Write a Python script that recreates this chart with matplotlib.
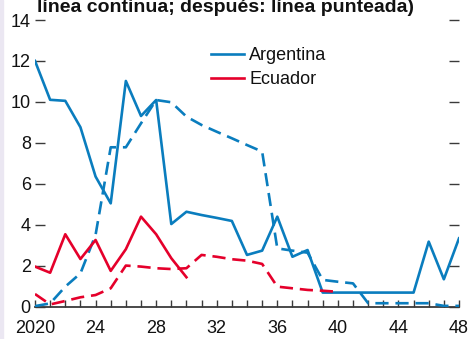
import numpy as np
import matplotlib
matplotlib.use('Agg')
import matplotlib.pyplot as plt
from matplotlib.patches import Rectangle

years = np.arange(2020, 2049)

# Argentina, earlier vintage (solid) and later vintage (dashed)
arg_solid = [12.0, 10.1, 10.05, 8.76, 6.35, 5.04, 11.02, 9.31, 10.09, 4.03,
             4.63, 4.47, 4.33, 4.18, 2.52, 2.73, 4.39, 2.43, 2.76, 0.68,
             0.68, 0.68, 0.68, 0.68, 0.68, 0.68, 3.17, 1.33, 3.33]
arg_dashed = [0.02, 0.15, 0.97, 1.62, 3.5, 7.78, 7.78, 8.95, 10.09, 9.98,
              9.28, 8.87, 8.54, 8.22, 7.89, 7.57, 2.84, 2.73, 2.63, 1.3,
              1.21, 1.13, 0.16, 0.16, 0.16, 0.16, 0.16, 0.03, 0.03]

# Ecuador
ecu_years_solid = np.arange(2020, 2031)
ecu_solid = [1.95, 1.65, 3.53, 2.32, 3.25, 1.74, 2.8, 4.39, 3.53, 2.36, 1.43]
ecu_years_dashed = np.arange(2020, 2041)
ecu_dashed = [0.61, 0.1, 0.27, 0.45, 0.56, 0.89, 2.0, 1.95, 1.87, 1.83,
              1.87, 2.52, 2.43, 2.31, 2.24, 2.08, 0.97, 0.89, 0.81, 0.77, 0.72]

xticks = [2020, 2024, 2028, 2032, 2036, 2040, 2044, 2048]
xtick_labels = ['2020', '24', '28', '32', '36', '40', '44', '48']
yticks = [0, 2, 4, 6, 8, 10, 12, 14]

BLUE = '#0a7dbe'
RED = '#e5002b'
plt.rcParams['font.family'] = ['Liberation Sans', 'DejaVu Sans']

fig = plt.figure(figsize=(4.69, 3.39), dpi=100)
fig.patches.append(Rectangle((0, 0), 3 / 469, 1, transform=fig.transFigure,
                             color='#ebe7f2', zorder=0))
ax = fig.add_axes([35 / 469, 32.5 / 339, 424 / 469, 286.5 / 339])

lw = 1.9
dash = (5, 2.6)
ax.plot(years, arg_solid, color=BLUE, lw=lw, label='Argentina')
ax.plot(years, arg_dashed, color=BLUE, lw=lw, ls=(0, dash))
ax.plot(ecu_years_solid, ecu_solid, color=RED, lw=lw, label='Ecuador')
ax.plot(ecu_years_dashed, ecu_dashed, color=RED, lw=lw, ls=(0, dash))

ax.set_xlim(2020, 2048)
ax.set_ylim(0, 14)
ax.set_xticks(xticks)
ax.set_xticklabels(xtick_labels)
ax.set_xticks(years, minor=True)
ax.set_yticks(yticks)

for s in ['top', 'left', 'right']:
    ax.spines[s].set_visible(False)
ax.spines['bottom'].set_color('#3a3a3a')
ax.spines['bottom'].set_linewidth(1.3)
ax.spines['bottom'].set_zorder(1)

ax.tick_params(axis='x', which='both', direction='in', length=5, width=1,
               color='#3a3a3a', labelsize=13, pad=10)
ax.tick_params(axis='y', which='both', direction='in', length=7, width=1,
               color='#3a3a3a', labelsize=13, pad=3, left=True, right=True)
for lab in ax.get_xticklabels() + ax.get_yticklabels():
    lab.set_color('#111111')

leg = ax.legend(loc='upper left', bbox_to_anchor=(0.397, 0.93), frameon=False,
                fontsize=13, handlelength=1.85, handletextpad=0.3,
                labelspacing=0.38, borderaxespad=0)
for t in leg.get_texts():
    t.set_color('#111111')

fig.text(37 / 469, 1 - 12 / 339, 'línea continua; después: línea punteada)',
         fontsize=14, fontweight='bold', ha='left', va='baseline',
         color='#111111')

fig.savefig('out.png', dpi=100)
